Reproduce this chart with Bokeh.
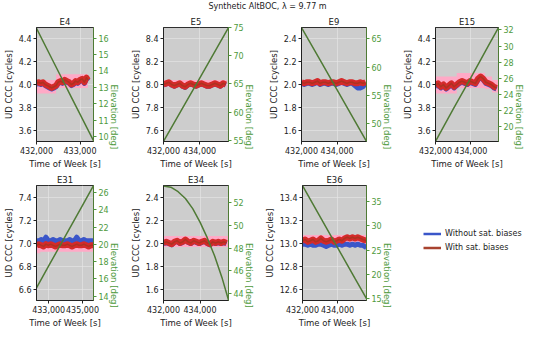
import math
from bokeh.plotting import figure
from bokeh.models import (Range1d, LinearAxis, FixedTicker, NumeralTickFormatter,
                          PrintfTickFormatter, Legend, LegendItem, Label)
from bokeh.layouts import column, row
from bokeh.embed import file_html
from bokeh.resources import INLINE

# ---------------- data ----------------
suptitle = "Synthetic AltBOC, λ = 9.77 m"
legend_labels = ["Without sat. biases", "With sat. biases"]

# E4
e4_t = [432000, 432050, 432100, 432150, 432200, 432250, 432300, 432350, 432400, 432450,
        432500, 432550, 432600, 432650, 432700, 432750, 432800, 432850, 432900, 432950,
        433000, 433050, 433100, 433150, 433180]
e4_with = [4.01, 4.02, 4.01, 4.02, 4.00, 3.99, 3.98, 3.97, 3.98, 3.99, 4.02, 4.03, 4.02,
           4.04, 4.03, 4.02, 4.00, 4.01, 4.03, 4.02, 4.04, 4.05, 4.02, 4.06, 4.04]
e4_without = [4.00, 4.01, 4.00, 4.01, 3.99, 3.98, 3.97, 3.96, 3.97, 3.98, 4.01, 4.02, 4.01,
              4.03, 4.02, 4.01, 3.99, 4.00, 4.02, 4.01, 4.03, 4.04, 4.01, 4.05, 4.03]
e4_band_t = [432000, 432450, 432450, 433180]
e4_band_lo = [3.92, 3.92, 3.97, 3.97]
e4_band_hi = [4.04, 4.04, 4.09, 4.09]
e4_el_t = [432000, 432400, 432800, 433310]
e4_el = [16.6, 14.5, 12.4, 9.75]

# E5
e5_t = [432000, 432150, 432300, 432450, 432600, 432750, 432900, 433050, 433200, 433350,
        433500, 433650, 433800, 433950, 434100, 434250, 434400, 434550, 434700, 434850,
        435000, 435150, 435300, 435450]
e5_with = [8.00, 8.01, 8.02, 8.00, 7.99, 8.00, 8.01, 7.99, 7.98, 8.00, 8.01, 8.00, 7.99,
           8.00, 8.01, 8.00, 7.99, 7.99, 8.00, 8.01, 8.00, 7.99, 8.01, 8.00]
e5_without = [7.995, 8.005, 8.015, 7.995, 7.985, 7.995, 8.005, 7.985, 7.975, 7.995, 8.005,
              7.995, 7.985, 7.995, 8.005, 7.995, 7.985, 7.985, 7.995, 8.005, 7.995, 7.985,
              8.005, 7.995]
e5_band_t = [432000, 435500]
e5_band_lo = [7.98, 7.98]
e5_band_hi = [8.04, 8.04]
e5_el_t = [432000, 433000, 434000, 435000, 435600]
e5_el = [54.8, 60.4, 66.0, 71.6, 75.0]

# E9
e9_t = [432000, 432150, 432300, 432450, 432600, 432750, 432900, 433050, 433200, 433350,
        433500, 433650, 433800, 433950, 434100, 434250, 434400, 434550, 434700, 434850,
        435000, 435150, 435300, 435450, 435600]
e9_with = [2.02, 2.01, 2.02, 2.02, 2.01, 2.02, 2.03, 2.01, 2.02, 2.02, 2.01, 2.02, 2.02,
           2.01, 2.02, 2.03, 2.02, 2.01, 2.02, 2.02, 2.01, 2.01, 2.02, 2.01, 2.02]
e9_without = [2.01, 2.00, 2.01, 2.01, 2.00, 2.01, 2.02, 2.00, 2.01, 2.01, 2.00, 2.01, 2.01,
              2.00, 2.01, 2.02, 2.01, 2.00, 2.01, 2.01, 1.99, 1.97, 1.97, 1.98, 2.01]
e9_band_t = [432000, 435650]
e9_band_lo = [1.99, 1.99]
e9_band_hi = [2.04, 2.04]
e9_el_t = [432000, 433000, 434000, 435000, 435650]
e9_el = [67.0, 61.5, 56.0, 50.5, 46.9]

# E15
e15_t = [432000, 432150, 432300, 432450, 432600, 432750, 432900, 433050, 433200, 433350,
         433500, 433650, 433800, 433950, 434100, 434250, 434400, 434550, 434700, 434850,
         435000, 435150, 435300, 435450]
e15_with = [3.99, 4.01, 3.98, 4.00, 3.97, 3.99, 4.01, 3.98, 4.00, 4.02, 4.03, 4.02, 4.01,
            4.03, 4.02, 4.01, 4.05, 4.07, 4.05, 4.02, 4.01, 4.00, 3.98, 3.97]
e15_without = [3.98, 4.00, 3.97, 3.99, 3.96, 3.98, 4.00, 3.97, 3.99, 4.01, 4.02, 4.01, 4.00,
               4.02, 4.01, 4.00, 4.04, 4.06, 4.04, 4.01, 4.00, 3.99, 3.97, 3.96]
e15_band_t = [432000, 433200, 433200, 434800, 434800, 435200, 435200, 435560]
e15_band_lo = [3.92, 3.92, 3.97, 3.97, 3.96, 3.96, 3.93, 3.93]
e15_band_hi = [4.07, 4.07, 4.10, 4.10, 4.07, 4.07, 4.04, 4.04]
e15_el_t = [432000, 433000, 434000, 435000, 435560]
e15_el = [18.2, 22.2, 26.1, 30.1, 32.3]

# E31
e31_t = [432280, 432420, 432560, 432700, 432840, 432980, 433120, 433260, 433400, 433540,
         433680, 433820, 433960, 434100, 434240, 434380, 434520, 434660, 434800, 434940,
         435080, 435220, 435360, 435500, 435650]
e31_with = [6.98, 6.99, 6.98, 6.97, 6.99, 6.98, 6.99, 6.98, 6.97, 6.98, 6.99, 6.98, 6.98,
            6.99, 6.98, 6.97, 6.98, 6.99, 6.98, 6.98, 6.99, 6.98, 6.97, 6.98, 6.98]
e31_without = [7.02, 7.02, 7.03, 7.02, 7.05, 7.02, 7.02, 7.03, 7.02, 7.02, 7.03, 7.02, 7.02,
               7.02, 7.03, 7.02, 7.02, 7.05, 7.02, 7.02, 7.03, 7.02, 7.02, 7.02, 7.02]
e31_band_t = [432280, 432500, 432500, 435650]
e31_band_lo = [6.91, 6.91, 6.925, 6.925]
e31_band_hi = [7.03, 7.03, 7.04, 7.04]
e31_el_t = [432280, 433000, 434000, 435000, 435650]
e31_el = [14.95, 17.5, 21.0, 24.5, 26.8]

# E34
e34_t = [432000, 432150, 432300, 432450, 432600, 432750, 432900, 433050, 433200, 433350,
         433500, 433650, 433800, 433950, 434100, 434250, 434400, 434550, 434700, 434850,
         435000, 435150, 435300, 435450]
e34_with = [2.00, 2.01, 2.00, 1.99, 2.01, 2.02, 2.00, 2.01, 2.03, 2.01, 2.00, 2.02, 2.01,
            2.00, 2.01, 2.02, 2.00, 1.99, 2.01, 2.00, 2.01, 2.00, 2.01, 2.00]
e34_without = [1.995, 2.005, 1.995, 1.985, 2.005, 2.015, 1.995, 2.005, 2.025, 2.005, 1.995,
               2.015, 2.005, 1.995, 2.005, 2.015, 1.995, 1.985, 2.005, 1.995, 2.005, 1.995,
               2.005, 1.995]
e34_band_t = [432000, 435560]
e34_band_lo = [1.965, 1.965]
e34_band_hi = [2.06, 2.06]
e34_el_t = [432000, 432400, 432800, 433200, 433600, 434000, 434400, 434800, 435200, 435560]
e34_el = [53.5, 53.4, 53.0, 52.4, 51.5, 50.3, 48.9, 47.3, 45.4, 43.4]

# E36
e36_t = [432000, 432150, 432300, 432450, 432600, 432750, 432900, 433050, 433200, 433350,
         433500, 433650, 433800, 433950, 434100, 434250, 434400, 434550, 434700, 434850,
         435000, 435150, 435300, 435450, 435650]
e36_with = [13.02, 13.03, 13.01, 13.02, 13.03, 13.01, 13.02, 13.04, 13.02, 13.01, 13.02,
            13.03, 13.01, 13.02, 13.03, 13.02, 13.04, 13.05, 13.04, 13.05, 13.04, 13.05,
            13.04, 13.03, 13.02]
e36_without = [12.99, 12.99, 12.98, 12.99, 12.98, 12.98, 12.99, 12.99, 12.98, 12.97, 12.98,
               12.99, 12.98, 12.98, 12.99, 12.98, 12.99, 12.99, 12.98, 12.99, 12.98, 12.99,
               12.98, 12.98, 12.96]
e36_band_t = [432000, 435650]
e36_band_lo = [12.965, 12.965]
e36_band_hi = [13.07, 13.07]
e36_el_t = [432000, 433000, 434000, 435000, 435650]
e36_el = [38.3, 31.9, 25.5, 19.1, 15.0]

# axis limits and ticks
x_limits = {"E4": (432000, 433310), "E5": (432000, 435600), "E9": (432000, 435650),
            "E15": (432000, 435560), "E31": (432280, 435650), "E34": (432000, 435560),
            "E36": (432000, 435650)}
y_centers = {"E4": 4.0, "E5": 8.0, "E9": 2.0, "E15": 4.0, "E31": 7.0, "E34": 2.0, "E36": 13.0}
y_ticks = {"E4": [3.6, 3.8, 4.0, 4.2, 4.4], "E5": [7.6, 7.8, 8.0, 8.2, 8.4],
           "E9": [1.6, 1.8, 2.0, 2.2, 2.4], "E15": [3.6, 3.8, 4.0, 4.2, 4.4],
           "E31": [6.6, 6.8, 7.0, 7.2, 7.4], "E34": [1.6, 1.8, 2.0, 2.2, 2.4],
           "E36": [12.6, 12.8, 13.0, 13.2, 13.4]}
el_limits = {"E4": (9.7, 16.65), "E5": (54.8, 75.0), "E9": (46.9, 67.0), "E15": (18.2, 32.3),
             "E31": (13.5, 26.8), "E34": (43.35, 53.55), "E36": (14.6, 38.3)}
x_ticks = {"E4": [432000, 433000], "E5": [432000, 434000], "E9": [432000, 434000],
           "E15": [432000, 434000], "E31": [433000, 435000], "E34": [432000, 434000],
           "E36": [432000, 434000]}
el_ticks = {"E4": [10, 11, 12, 13, 14, 15, 16], "E5": [55, 60, 65, 70, 75],
            "E9": [50, 55, 60, 65], "E15": [20, 22, 24, 26, 28, 30, 32],
            "E31": [14, 16, 18, 20, 22, 24, 26], "E34": [44, 46, 48, 50, 52],
            "E36": [15, 20, 25, 30, 35]}

series = {
    "E4": (e4_t, e4_without, e4_with, e4_band_t, e4_band_lo, e4_band_hi, e4_el_t, e4_el),
    "E5": (e5_t, e5_without, e5_with, e5_band_t, e5_band_lo, e5_band_hi, e5_el_t, e5_el),
    "E9": (e9_t, e9_without, e9_with, e9_band_t, e9_band_lo, e9_band_hi, e9_el_t, e9_el),
    "E15": (e15_t, e15_without, e15_with, e15_band_t, e15_band_lo, e15_band_hi, e15_el_t, e15_el),
    "E31": (e31_t, e31_without, e31_with, e31_band_t, e31_band_lo, e31_band_hi, e31_el_t, e31_el),
    "E34": (e34_t, e34_without, e34_with, e34_band_t, e34_band_lo, e34_band_hi, e34_el_t, e34_el),
    "E36": (e36_t, e36_without, e36_with, e36_band_t, e36_band_lo, e36_band_hi, e36_el_t, e36_el),
}

# ---------------- style ----------------
FONT = "DejaVu Sans"
BG = "#cdcdcd"
PINK = "#ffa9c6"
BLUE = "#3a56c9"
RED = "#d42a2a"
BROWN = "#8b3a1a"
LEG_RED = "#a8432f"
GREEN_LINE = "#4f7a35"
GREEN_TXT = "#4e9a3c"
TXT = "#222222"
TICK_FS = "8px"
LABEL_FS = "8.5px"


def style_axis(ax, color):
    ax.major_label_text_font = FONT
    ax.major_label_text_font_size = TICK_FS
    ax.axis_label_text_font = FONT
    ax.axis_label_text_font_size = LABEL_FS
    ax.axis_label_text_font_style = "normal"
    ax.major_label_standoff = 2
    ax.axis_label_standoff = 2
    ax.major_tick_out = 3
    ax.major_tick_in = 0
    ax.minor_tick_line_color = None
    ax.major_label_text_color = color
    ax.axis_label_text_color = color
    ax.major_tick_line_color = color
    ax.axis_line_color = color


def panel(name, L, fw, R, T, fh, B):
    t, wo, wi, bt, blo, bhi, et, el = series[name]
    yc = y_centers[name]
    p = figure(width=L + fw + R, height=T + fh + B,
               min_border_left=L, min_border_right=R, min_border_top=T, min_border_bottom=B,
               x_range=Range1d(*x_limits[name]), y_range=Range1d(yc - 0.5, yc + 0.5),
               toolbar_location=None, output_backend="svg", title=name)
    p.extra_y_ranges = {"elev": Range1d(*el_limits[name])}
    p.background_fill_color = BG
    p.border_fill_color = "white"
    p.outline_line_color = "black"
    p.outline_line_width = 0.8
    p.title.text_font = FONT
    p.title.text_font_size = LABEL_FS
    p.title.text_font_style = "normal"
    p.title.text_color = TXT
    p.title.align = "center"
    p.title.standoff = 2
    p.title.offset = 0

    p.varea(x=bt, y1=blo, y2=bhi, fill_color=PINK, fill_alpha=1.0)
    p.line(t, wo, line_color=BLUE, line_width=5, line_join="round")
    p.line(t, wi, line_color=RED, line_width=6, line_join="round")
    p.line(t, wi, line_color=BROWN, line_width=1.5, line_alpha=0.55, line_join="round")
    p.line(et, el, y_range_name="elev", line_color=GREEN_LINE, line_width=1.5)

    p.xaxis.ticker = FixedTicker(ticks=x_ticks[name])
    p.xaxis.formatter = NumeralTickFormatter(format="0,0")
    p.xaxis.axis_label = "Time of Week [s]"
    p.yaxis.ticker = FixedTicker(ticks=y_ticks[name])
    p.yaxis.formatter = PrintfTickFormatter(format="%.1f")
    p.yaxis.axis_label = "UD CCC [cycles]"
    for ax in p.xaxis + p.yaxis:
        style_axis(ax, TXT)

    rax = LinearAxis(y_range_name="elev", axis_label="Elevation [deg]",
                     ticker=FixedTicker(ticks=el_ticks[name]))
    style_axis(rax, GREEN_TXT)
    rax.axis_line_color = GREEN_LINE
    rax.axis_label_orientation = -math.pi / 2
    p.add_layout(rax, "right")

    p.xgrid.ticker = FixedTicker(ticks=x_ticks[name])
    p.ygrid.ticker = FixedTicker(ticks=y_ticks[name])
    p.grid.grid_line_color = "#e8e8e8"
    p.grid.grid_line_alpha = 0.75
    p.grid.grid_line_width = 0.8
    return p


# layout geometry  (left border, frame width, right border)
cols = [(30, 68, 28), (37, 70, 28), (40, 70, 28), (34, 70, 28)]
T1, T2, FH, B = 12, 13, 119, 27

# title strip
tf = figure(width=532, height=13, x_range=Range1d(0, 1), y_range=Range1d(0, 1),
            toolbar_location=None, output_backend="svg", min_border=0,
            x_axis_location=None, y_axis_location=None)
tf.outline_line_color = None
tf.grid.visible = False
tf.add_layout(Label(x=267, y=7, x_units="screen", y_units="screen", text=suptitle,
                    text_align="center", text_baseline="middle", text_font=FONT,
                    text_font_size="8px", text_color=TXT))

row1_names = ["E4", "E5", "E9", "E15"]
row2_names = ["E31", "E34", "E36"]
r1 = [panel(n, c[0], c[1], c[2], T1, FH, B) for n, c in zip(row1_names, cols)]
r2 = [panel(n, c[0], c[1], c[2], T2, FH, B) for n, c in zip(row2_names, cols[:3])]

# legend panel
lw = sum(cols[3])
lh = T2 + FH + B
lf = figure(width=lw, height=lh, x_range=Range1d(0, 1), y_range=Range1d(0, 1),
            toolbar_location=None, output_backend="svg", min_border=0,
            x_axis_location=None, y_axis_location=None)
lf.outline_line_color = None
lf.grid.visible = False
rb = lf.line([0, 1], [5, 5], line_color=BLUE, line_width=2.5)
rr = lf.line([0, 1], [5, 5], line_color=LEG_RED, line_width=2.5)
leg = Legend(items=[LegendItem(label=legend_labels[0], renderers=[rb]),
                    LegendItem(label=legend_labels[1], renderers=[rr])],
             location=(24, 46), margin=0, padding=3, spacing=1,
             glyph_width=18, glyph_height=13, label_height=13, label_standoff=4,
             label_text_font=FONT, label_text_font_size="8px", label_text_color=TXT,
             border_line_color=None, background_fill_alpha=0)
lf.add_layout(leg)
r2.append(lf)

layout = column(tf, row(*r1), row(*r2))
open("out.html", "w").write(file_html(layout, INLINE))
